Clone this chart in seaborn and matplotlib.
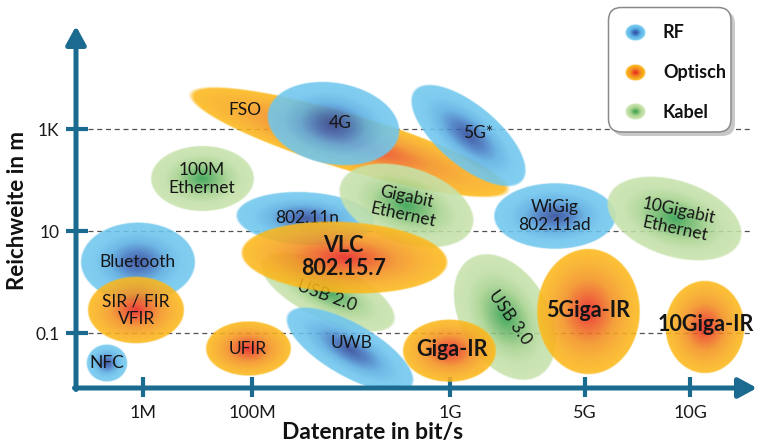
import numpy as np
import matplotlib
matplotlib.use("Agg")
import matplotlib.pyplot as plt
import seaborn as sns
from matplotlib.patches import FancyBboxPatch

sns.set_theme(style="white")
plt.rcParams["font.family"] = ["Lato", "DejaVu Sans"]

# ---- data -------------------------------------------------------------
XTICK_LABELS = ["1M", "100M", "1G", "5G", "10G"]
XTICK_POS = [1.31, 3.45, 7.33, 9.98, 12.04]      # position on the rate axis
YTICK_M = [0.1, 10, 1000]
YTICK_LABELS = ["0.1", "10", "1K"]

TECH = ["FSO", "4G", "5G*", "100M\nEthernet", "802.11n", "Gigabit\nEthernet",
        "USB 2.0", "UWB", "VLC\n802.15.7", "UFIR", "USB 3.0", "Giga-IR",
        "5Giga-IR", "10Giga-IR", "WiGig\n802.11ad", "10Gigabit\nEthernet",
        "Bluetooth", "SIR / FIR\nVFIR", "NFC"]
KIND = ["Optisch", "RF", "RF", "Kabel", "RF", "Kabel",
        "Kabel", "RF", "Optisch", "Optisch", "Kabel", "Optisch",
        "Optisch", "Optisch", "RF", "Kabel",
        "RF", "Optisch", "RF"]
RATE_POS = [5.35, 5.04, 7.69, 2.47, 4.49, 6.47, 4.94, 5.37, 5.25, 3.37, 8.41,
            7.33, 10.04, 12.33, 9.39, 11.73, 1.22, 1.18, 0.61]
RANGE_LOG = [2.73, 3.10, 2.88, 2.02, 1.24, 1.49, -0.20, -1.33, 0.47, -1.31,
             -0.69, -1.35, -0.57, -0.88, 1.29, 1.24, 0.39, -0.55, -1.59]
SPAN_RATE = [6.6, 2.63, 2.8, 2.04, 2.75, 2.75, 2.9, 2.85, 4.08, 1.69, 2.7,
             1.86, 2.04, 1.57, 2.43, 2.75, 2.27, 1.92, 0.82]
SPAN_RANGE = [1.1, 1.61, 1.2, 1.29, 1.05, 1.5, 1.1, 1.05, 1.41, 1.08, 1.75,
              1.24, 2.49, 1.84, 1.31, 1.5, 1.57, 1.33, 0.75]
TILT = [-16.8, -10, -40, 0, -3, -18, -25, -30, -3, 0, -60, 0, 0, 0, 0, -18,
        0, 0, 0]
LABEL_X = [3.31, 5.18, 7.88, 2.47, 4.53, 6.45, 4.92, 5.41, 5.24, 3.37, 8.51,
           7.37, 10.04, 12.35, 9.39, 11.78, 1.20, 1.18, 0.61]
LABEL_Y = [3.37, 3.12, 2.92, 2.02, 1.25, 1.49, -0.27, -1.20, 0.49, -1.31,
           -0.69, -1.33, -0.55, -0.84, 1.29, 1.22, 0.39, -0.55, -1.59]
LABEL_ROT = [0, 0, 0, 0, 0, -12, -20, 0, 0, 0, -55, 0, 0, 0, 0, -12, 0, 0, 0]
BOLD = ["VLC\n802.15.7", "Giga-IR", "5Giga-IR", "10Giga-IR"]

LEGEND = ["RF", "Optisch", "Kabel"]

# ---- style ------------------------------------------------------------
AXC = "#1b6b90"
CMAPS = {
    "RF": sns.blend_palette(["#2c4799", "#3f74bf", "#5aaee2", "#6cc4ee", "#70c8ef"], as_cmap=True),
    "Optisch": sns.blend_palette(["#e8221f", "#ee5a22", "#f39121", "#f9ab1e", "#fdbb1a"], as_cmap=True),
    "Kabel": sns.blend_palette(["#2f9f4c", "#6db86a", "#a8d38f", "#c3e0a8", "#c8e3ad"], as_cmap=True),
}
ALPHA = 0.88
PPU = 51.0   # pixels per data unit in the main axes


def gradient_ellipse(ax, x, y, w, h, angle, cmap, z, ppu, alpha=ALPHA):
    r = max(w, h) / 2
    n = int(min(900, max(80, 2 * r * ppu * 1.5)))
    gx = np.linspace(x - r, x + r, n)
    gy = np.linspace(y - r, y + r, n)
    X, Y = np.meshgrid(gx, gy)
    t = np.deg2rad(angle)
    u = (X - x) * np.cos(t) + (Y - y) * np.sin(t)
    v = -(X - x) * np.sin(t) + (Y - y) * np.cos(t)
    d = np.sqrt((u / (w / 2)) ** 2 + (v / (h / 2)) ** 2)
    rgba = cmap(np.clip(d, 0, 1))
    soft = 1.0 / (min(w, h) / 2 * ppu)
    rgba[..., 3] = alpha * np.clip((1 - d) / soft, 0, 1)
    ax.imshow(rgba, extent=(x - r, x + r, y - r, y + r), origin="lower",
              zorder=z, interpolation="bilinear", aspect="auto")


W, H = 757, 444
fig = plt.figure(figsize=(W / 100, H / 100), dpi=100)
ax = fig.add_axes([76 / W, (H - 388) / H, (W - 76) / W, (388 - 26) / H])
ax.set_facecolor("none")
xmax = (W - 76) / PPU
ymin = 3 - (388 - 129) / PPU
ymax = 3 + (129 - 26) / PPU

ylog = np.log10(YTICK_M)

# grid lines and ticks
ax.hlines(ylog, 0.24, xmax - 0.1, colors="#505050", linestyles=(0, (4, 3)),
          lw=0.9, zorder=1)
ax.hlines(ylog, -0.2, 0.24, colors=AXC, lw=3, zorder=1, clip_on=False)
ax.vlines(XTICK_POS, ymin - 0.18, ymin + 0.22, colors=AXC, lw=3, zorder=1,
          clip_on=False)

for i, name in enumerate(TECH):
    gradient_ellipse(ax, RATE_POS[i], RANGE_LOG[i], SPAN_RATE[i], SPAN_RANGE[i],
                     TILT[i], CMAPS[KIND[i]], 2 + 2 * i, PPU)
    bold = name in BOLD
    size = 15.5 if bold else 12.5
    ax.text(LABEL_X[i], LABEL_Y[i], name, ha="center", va="center",
            rotation=LABEL_ROT[i], rotation_mode="anchor",
            fontsize=size, fontweight="bold" if bold else "normal",
            color="#151515", linespacing=1.15, zorder=3 + 2 * i)

# axis arrows
arrow = dict(arrowstyle="-|>,head_length=1.1,head_width=0.6", lw=3.6,
             color=AXC, shrinkA=0, shrinkB=0, mutation_scale=10)
ax.annotate("", xy=(xmax, ymin), xytext=(-0.03, ymin), arrowprops=arrow,
            annotation_clip=False, zorder=60)
ax.annotate("", xy=(0, ymax), xytext=(0, ymin - 0.03), arrowprops=arrow,
            annotation_clip=False, zorder=60)

ax.set_xlim(0, xmax)
ax.set_ylim(ymin, ymax)
ax.set_xticks(XTICK_POS, XTICK_LABELS)
ax.set_yticks(ylog, YTICK_LABELS)
ax.tick_params(axis="x", length=0, pad=12, labelsize=13, colors="#1a1a1a")
ax.tick_params(axis="y", length=0, pad=12, labelsize=12.5, colors="#1a1a1a")
for s in ax.spines.values():
    s.set_visible(False)
ax.grid(False)

fig.text(373 / W, 1 - 432 / H, "Datenrate in bit/s", ha="center", va="center",
         fontsize=16.5, fontweight="bold", color="#111111")
fig.text(18 / W, 1 - 210 / H, "Reichweite in m", ha="center", va="center",
         rotation=90, fontsize=16, fontweight="bold", color="#111111")

# legend box
lx0, ly0, lw_, lh_ = 608, 7, 127, 129
lax = fig.add_axes([lx0 / W, (H - ly0 - lh_) / H, lw_ / W, lh_ / H])
lax.set_xlim(0, lw_)
lax.set_ylim(lh_, 0)
lax.axis("off")
lax.set_facecolor("none")
shadow = FancyBboxPatch((4, 4), lw_ - 4, lh_ - 4,
                        boxstyle="round,pad=0,rounding_size=13",
                        fc="#c8c8c8", ec="none", zorder=1, clip_on=False)
box = FancyBboxPatch((0.5, 0.5), lw_ - 4.5, lh_ - 4.5,
                     boxstyle="round,pad=0,rounding_size=13",
                     fc="white", ec="#8a8a8a", lw=1.1, zorder=2, clip_on=False)
lax.add_patch(shadow)
lax.add_patch(box)
for j, kind in enumerate(LEGEND):
    cy = 26 + j * 39.5
    gradient_ellipse(lax, 27, cy, 21, 17, 0, CMAPS[kind], 3, 1.0, alpha=1.0)
    lax.text(55, cy, kind, ha="left", va="center", fontsize=13,
             fontweight="bold", color="#111111", zorder=4)
lax.set_xlim(0, lw_)
lax.set_ylim(lh_, 0)

fig.savefig("out.png", dpi=100)
